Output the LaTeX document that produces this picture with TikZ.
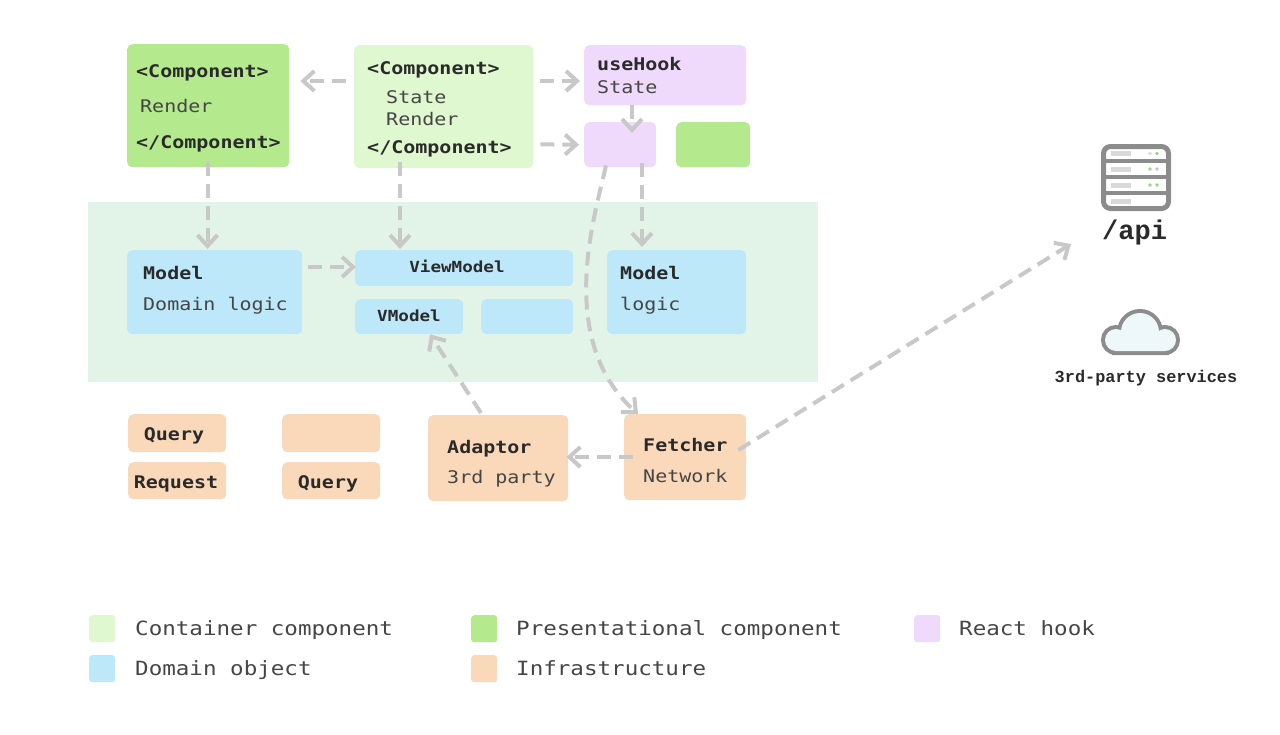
\documentclass[tikz,border=0pt]{standalone}
\usepackage{fontspec}
\usepackage{tikz}
\usetikzlibrary{arrows.meta}
\newfontfamily\boxfont[FakeStretch=1.15]{DejaVu Sans Mono}
\newfontfamily\courfont{Liberation Mono}
\definecolor{bandC}{HTML}{E2F4E7}
\definecolor{presC}{HTML}{B4E98E}
\definecolor{contC}{HTML}{DFF8CF}
\definecolor{hookC}{HTML}{EFDAFC}
\definecolor{domC}{HTML}{BDE8F9}
\definecolor{infraC}{HTML}{FAD9BA}
\definecolor{linkC}{HTML}{C8C8C8}
\definecolor{titleC}{HTML}{2A2A2A}
\definecolor{bodyC}{HTML}{454545}
\definecolor{iconC}{HTML}{8C8C8C}
\definecolor{barC}{HTML}{D9D9D9}
\definecolor{ledG}{HTML}{8EDB7A}
\definecolor{ledP}{HTML}{C9B5F0}
\definecolor{cloudC}{HTML}{EEF8FB}
\tikzset{>={Straight Barb[length=11pt,width=20pt]}}

\begin{document}
\begin{tikzpicture}[x=1pt,y=-1pt,
    box/.style={anchor=north west, inner sep=0pt, rounded corners=5pt},
    head/.style={font=\boxfont\bfseries\fontsize{17.4}{20}\selectfont, text=titleC,
      anchor=west, inner sep=0pt, text height=12.6pt, text depth=0pt},
    body/.style={head, font=\boxfont\fontsize{17.4}{20}\selectfont, text=bodyC},
    headc/.style={head, anchor=center},
    small/.style={headc, font=\boxfont\bfseries\fontsize{15.3}{18}\selectfont, text height=11pt},
    legend/.style={body, font=\boxfont\fontsize{19.6}{22}\selectfont, text height=14.3pt},
    key/.style={box, rounded corners=3pt, minimum width=26, minimum height=27},
    link/.style={draw=linkC, line width=4pt, dash pattern=on 14pt off 8pt, ->}]
      \useasboundingbox (0,0) rectangle (1280,734);

      \node[box, fill=bandC, rounded corners=0pt, minimum width=730, minimum height=180] (BandN) at (88,202) {};

      \node[box, fill=presC, minimum width=162, minimum height=123]  (PresN)      at (127,44)  {};
      \node[box, fill=contC, minimum width=179, minimum height=123]  (ContN)      at (354,45)  {};
      \node[box, fill=hookC, minimum width=162, minimum height=60]   (HookN)      at (584,45)  {};
      \node[box, fill=hookC, minimum width=72,  minimum height=45]   (HookSmallN) at (584,122) {};
      \node[box, fill=presC, minimum width=74,  minimum height=45]   (PresSmallN) at (676,122) {};

      \node[box, fill=domC, minimum width=175, minimum height=84]    (ModelN)     at (127,250) {};
      \node[box, fill=domC, minimum width=218, minimum height=36]    (VmN)        at (355,250) {};
      \node[box, fill=domC, minimum width=108, minimum height=35]    (VModelN)    at (355,299) {};
      \node[box, fill=domC, minimum width=92,  minimum height=35]    (VmBlankN)   at (481,299) {};
      \node[box, fill=domC, minimum width=139, minimum height=84]    (LogicN)     at (607,250) {};

      \node[box, fill=infraC, minimum width=98,  minimum height=38]  (QueryN)     at (128,414) {};
      \node[box, fill=infraC, minimum width=98,  minimum height=38]  (InfraBlankN) at (282,414) {};
      \node[box, fill=infraC, minimum width=98,  minimum height=37]  (RequestN)   at (128,462) {};
      \node[box, fill=infraC, minimum width=98,  minimum height=37]  (QueryTwoN)  at (282,462) {};
      \node[box, fill=infraC, minimum width=140, minimum height=86]  (AdaptN)     at (428,415) {};
      \node[box, fill=infraC, minimum width=122, minimum height=86]  (FetchN)     at (624,414) {};

      \node[head] (PresOpenT)  at (136,71)  {<Component>};
      \node[body] (PresRenT)   at (140,106) {Render};
      \node[head] (PresCloseT) at (136,142) {</Component>};

      \node[head] (ContOpenT)  at (367,68)  {<Component>};
      \node[body] (ContStT)    at (386,97)  {State};
      \node[body] (ContRenT)   at (386,119) {Render};
      \node[head] (ContCloseT) at (367,147) {</Component>};

      \node[head] (HookT)      at (597,64)  {useHook};
      \node[body] (HookStT)    at (597,87)  {State};

      \node[head]  (ModelT)    at (143,273) {Model};
      \node[body]  (ModelSubT) at (143,304) {Domain logic};
      \node[small] (VmT)       at (457,267) {ViewModel};
      \node[small] (VModelT)   at (409,316) {VModel};
      \node[head]  (LogicT)    at (620,273) {Model};
      \node[body]  (LogicSubT) at (620,304) {logic};

      \node[headc] (QueryT)    at (174,434) {Query};
      \node[headc] (RequestT)  at (176,482) {Request};
      \node[headc] (QueryTwoT) at (328,482) {Query};
      \node[head]  (AdaptT)    at (447,447) {Adaptor};
      \node[body]  (AdaptSubT) at (447,477) {3rd party};
      \node[head]  (FetchT)    at (643,445) {Fetcher};
      \node[body]  (FetchSubT) at (643,476) {Network};

      % server
      \draw[line width=5pt, draw=iconC, fill=white, rounded corners=7pt] (1103.5,146.5) rectangle (1168.5,208.5);
      \foreach \y in {161,177,193}
        \draw[line width=4pt, draw=iconC] (1103.5,\y) -- (1168.5,\y);
      \foreach \y in {153.5,169,185,201}
        \fill[barC] (1111,\y-2.5) rectangle (1131,\y+2.5);
      \foreach \y/\ca/\cb in {153.5/barC/ledG,169/ledG/ledP,185/ledG/ledG} {
        \fill[\ca] (1150,\y) circle[radius=1.8pt];
        \fill[\cb] (1157,\y) circle[radius=1.8pt];
      }
      \node[anchor=west, inner sep=0pt, text=titleC, font=\courfont\bfseries\fontsize{27}{30}\selectfont] (ApiT) at (1102,233) {/api};

      % cloud
      \path[draw=iconC, line width=8pt] (1116,340) circle[radius=11pt] (1140,332) circle[radius=19pt]
        (1165,340) circle[radius=11pt] (1116,335) rectangle (1165,351);
      \path[fill=cloudC] (1116,340) circle[radius=11pt] (1140,332) circle[radius=19pt]
        (1165,340) circle[radius=11pt] (1116,335) rectangle (1165,351);
      \node[inner sep=0pt, text=titleC, font=\courfont\bfseries\fontsize{16.9}{19}\selectfont] (CloudT) at (1146,378) {3rd-party services};

      \draw[link] ([xshift=-8pt,yshift=-36pt]ContN.north west) -- ([xshift=11pt,yshift=-37pt]PresN.north east);
      \draw[link] ([xshift=7pt,yshift=-36pt]ContN.north east)  -- ([xshift=-4pt,yshift=-36pt]HookN.north west);
      \draw[link] ([xshift=7pt,yshift=24pt]ContN.south east)   -- ([xshift=-5pt]HookSmallN.west);
      \draw[link] ([xshift=48pt]HookN.south west)              -- ([xshift=48pt,yshift=-11pt]HookSmallN.north west);
      \draw[link] ([xshift=58pt,yshift=4pt]HookSmallN.south west) -- ([xshift=35pt,yshift=3pt]LogicN.north west);
      \draw[link] ([xshift=22pt,yshift=2pt]HookSmallN.south west) .. controls +(-11,50) and +(-83,-75) .. ([xshift=14pt]FetchN.north west);

      \draw[link] ([xshift=80.5pt,yshift=5pt]PresN.south west) -- ([xshift=80.5pt,yshift=1pt]ModelN.north west);
      \draw[link] ([xshift=46pt,yshift=6pt]ContN.south west)   -- ([xshift=45pt,yshift=1pt]VmN.north west);
      \draw[link] ([xshift=6pt,yshift=-17pt]ModelN.north east) -- ([xshift=1pt,yshift=-17pt]VmN.north west);

      \draw[link] ([xshift=53pt,yshift=2pt]AdaptN.north west)  -- ([xshift=75pt]VModelN.south west);
      \draw[link] ([xshift=9pt,yshift=-43pt]FetchN.north west) -- ([xshift=-2pt,yshift=-42pt]AdaptN.north east);
      \draw[link] ([xshift=-8pt,yshift=-36pt]FetchN.north east) -- ([xshift=-31pt,yshift=-11pt]ApiT.west);

      \node[key, fill=contC]  (ContK)  at (89,615)  {};
      \node[key, fill=domC]   (DomK)   at (89,655)  {};
      \node[key, fill=presC]  (PresK)  at (471,615) {};
      \node[key, fill=infraC] (InfraK) at (471,655) {};
      \node[key, fill=hookC]  (HookK)  at (914,615) {};

      \node[legend] (ContL)  at (135,628) {Container component};
      \node[legend] (DomL)   at (135,668) {Domain object};
      \node[legend] (PresL)  at (516,628) {Presentational component};
      \node[legend] (InfraL) at (516,668) {Infrastructure};
      \node[legend] (HookL)  at (959,628) {React hook};
    \end{tikzpicture}
\end{document}
